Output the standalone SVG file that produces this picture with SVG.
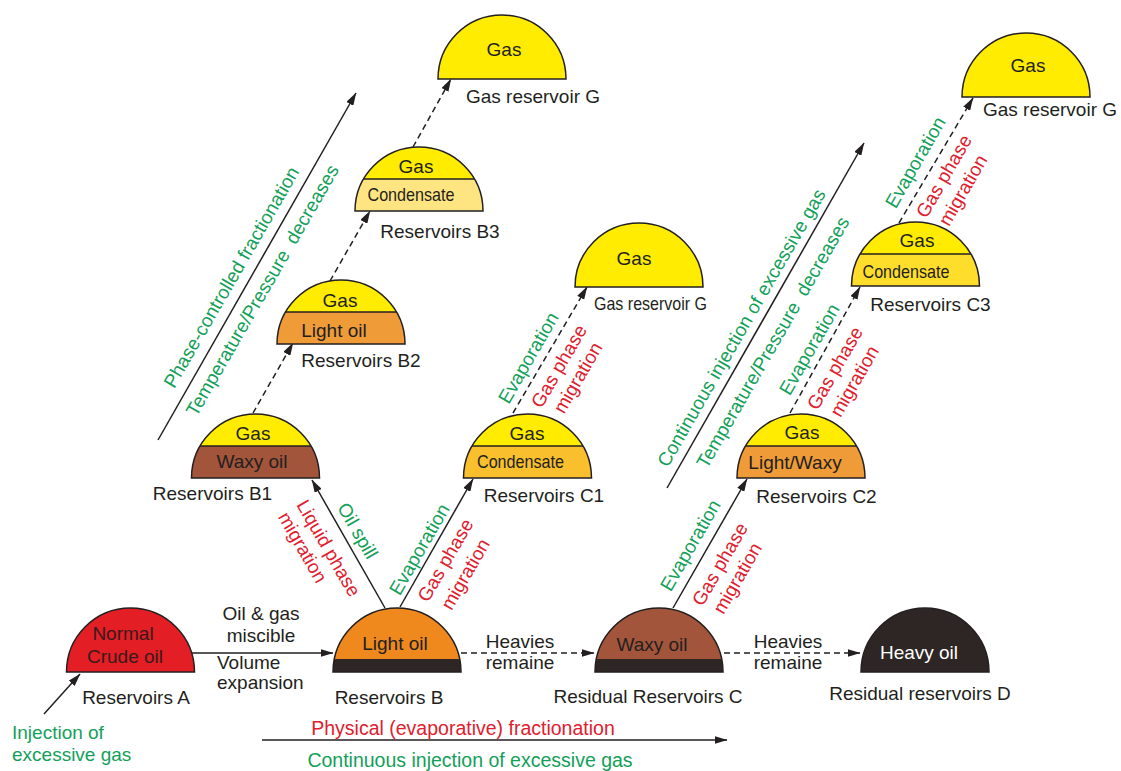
<svg xmlns="http://www.w3.org/2000/svg" xmlns:xlink="http://www.w3.org/1999/xlink" width="1121" height="771" viewBox="0 0 1121 771">
<style>
text{font-family:"Liberation Sans",Arial,Helvetica,sans-serif;font-size:19px;fill:#231f20}
.m{text-anchor:middle}
.g{fill:#13a05a}
.r{fill:#e0202e}
.w{fill:#ffffff}
.dk{fill:#3a1a1a}
.ln{stroke:#231f20;stroke-width:1.5;fill:none}
.ds{stroke-dasharray:6 4}
.ol{fill:none;stroke:#231f20;stroke-width:1.5}
.gas{fill:#ffec00}
.big{font-size:19.5px}
</style>
<defs>
<path id="dome" d="M-64,0 A64,64 0 0 1 64,0 Z"/>
<path id="cap" d="M-55.43,-32 A64,64 0 0 1 55.43,-32 Z"/>
<path id="top13" d="M-62.67,-13 A64,64 0 0 1 62.67,-13 Z"/>
<marker id="ah" viewBox="0 0 13 8" refX="12.5" refY="4" markerWidth="13" markerHeight="8" orient="auto" markerUnits="userSpaceOnUse">
<path d="M0,0 L13,4 L0,8 Z" fill="#231f20"/>
</marker>
</defs>
<rect width="1121" height="771" fill="#ffffff"/>

<g id="connectors">
<line class="ln" x1="192" y1="653" x2="333" y2="653" marker-end="url(#ah)"/>
<line class="ln ds" x1="461" y1="653" x2="594" y2="653" marker-end="url(#ah)"/>
<line class="ln ds" x1="724" y1="653" x2="860" y2="653" marker-end="url(#ah)"/>
<line class="ln" x1="44" y1="714" x2="80" y2="674" marker-end="url(#ah)"/>
<line class="ln" x1="262" y1="740" x2="727" y2="740" marker-end="url(#ah)"/>
<line class="ln" x1="385" y1="608" x2="312" y2="480" marker-end="url(#ah)"/>
<line class="ln" x1="400" y1="607" x2="473" y2="479" marker-end="url(#ah)"/>
<line class="ln" x1="673" y1="608" x2="747" y2="479" marker-end="url(#ah)"/>
<line class="ln ds" x1="253" y1="413" x2="293" y2="343" marker-end="url(#ah)"/>
<line class="ln ds" x1="330" y1="281" x2="370" y2="211" marker-end="url(#ah)"/>
<line class="ln ds" x1="413" y1="147" x2="451" y2="79" marker-end="url(#ah)"/>
<line class="ln ds" x1="513" y1="413" x2="587" y2="287" marker-end="url(#ah)"/>
<line class="ln ds" x1="790" y1="413" x2="860" y2="287" marker-end="url(#ah)"/>
<line class="ln ds" x1="899" y1="223" x2="973" y2="98" marker-end="url(#ah)"/>
<line class="ln" x1="158" y1="440" x2="356" y2="93" marker-end="url(#ah)"/>
<line class="ln" x1="667" y1="488" x2="864" y2="143" marker-end="url(#ah)"/>
</g>

<g id="connector-labels">
<text class="m" x="261" y="620">Oil &amp; gas</text>
<text class="m" x="261" y="642">miscible</text>
<text x="217" y="669" font-size="18">Volume</text>
<text x="217" y="689" font-size="18">expansion</text>
<text class="m" x="520" y="648">Heavies</text>
<text class="m" x="520" y="669">remaine</text>
<text class="m" x="788" y="648">Heavies</text>
<text class="m" x="788" y="669">remaine</text>
<text class="g" x="12" y="739">Injection of</text>
<text class="g" x="12" y="761">excessive gas</text>
<text class="r m big" x="463" y="735">Physical (evaporative) fractionation</text>
<text class="g m big" x="470" y="767">Continuous injection of excessive gas</text>

<text class="g m" transform="translate(237,280.5) rotate(-60)">Phase-controlled fractionation</text>
<text class="g m" transform="translate(268,293.5) rotate(-60)" xml:space="preserve">Temperature/Pressure  decreases</text>
<text class="g m" transform="translate(747,331) rotate(-60)">Continuous injection of excessive gas</text>
<text class="g m" transform="translate(778.5,345.5) rotate(-60)" xml:space="preserve">Temperature/Pressure  decreases</text>

<text class="g m" transform="translate(352,534) rotate(60)">Oil spill</text>
<text class="r m" transform="translate(323,551.5) rotate(60)">Liquid phase</text>
<text class="r m" transform="translate(297,550.5) rotate(60)">migration</text>

<text class="g m" transform="translate(425,552.5) rotate(-60)">Evaporation</text>
<text class="r m" transform="translate(451,563.5) rotate(-60)">Gas phase</text>
<text class="r m" transform="translate(471,577.5) rotate(-60)">migration</text>

<text class="g m" transform="translate(534,361) rotate(-60)">Evaporation</text>
<text class="r m" transform="translate(564.5,369.5) rotate(-60)">Gas phase</text>
<text class="r m" transform="translate(583.5,381) rotate(-60)">migration</text>

<text class="g m" transform="translate(696,548.5) rotate(-60)">Evaporation</text>
<text class="r m" transform="translate(725.5,567.5) rotate(-60)">Gas phase</text>
<text class="r m" transform="translate(743,581.5) rotate(-60)">migration</text>

<text class="g m" transform="translate(815,352.5) rotate(-60)">Evaporation</text>
<text class="r m" transform="translate(840.5,371.5) rotate(-60)">Gas phase</text>
<text class="r m" transform="translate(860,384.5) rotate(-60)">migration</text>

<text class="g m" transform="translate(921,165.5) rotate(-60)">Evaporation</text>
<text class="r m" transform="translate(949.5,179.5) rotate(-60)">Gas phase</text>
<text class="r m" transform="translate(968.5,193.5) rotate(-60)">migration</text>
</g>

<g id="reservoir-A">
<use xlink:href="#dome" href="#dome" x="130.5" y="672" fill="#e31e25"/>
<use xlink:href="#dome" href="#dome" x="130.5" y="672" class="ol"/>
<text class="m dk" x="123" y="640">Normal</text>
<text class="m dk" x="125" y="663">Crude oil</text>
<text class="m" x="136" y="704">Reservoirs A</text>
</g>

<g id="reservoir-B">
<use xlink:href="#dome" href="#dome" x="397" y="672" fill="#2e2624"/>
<use xlink:href="#top13" href="#top13" x="397" y="672" fill="#f0891d"/>
<use xlink:href="#dome" href="#dome" x="397" y="672" class="ol"/>
<text class="m" x="395" y="650">Light oil</text>
<text class="m" x="389" y="704">Reservoirs B</text>
</g>

<g id="reservoir-C">
<use xlink:href="#dome" href="#dome" x="659" y="672" fill="#2e2624"/>
<use xlink:href="#top13" href="#top13" x="659" y="672" fill="#a2553a"/>
<use xlink:href="#dome" href="#dome" x="659" y="672" class="ol"/>
<text class="m" x="652" y="651">Waxy oil</text>
<text class="m" x="648" y="703">Residual Reservoirs C</text>
</g>

<g id="reservoir-D">
<use xlink:href="#dome" href="#dome" x="925" y="672" fill="#2e2624"/>
<use xlink:href="#dome" href="#dome" x="925" y="672" class="ol"/>
<text class="m w" x="919" y="659">Heavy oil</text>
<text class="m" x="920" y="700">Residual reservoirs D</text>
</g>

<g id="reservoir-B1">
<use xlink:href="#dome" href="#dome" x="255.5" y="478" fill="#a2553a"/>
<use xlink:href="#cap" href="#cap" x="255.5" y="478" class="gas"/>
<line class="ln" x1="200" y1="446" x2="311" y2="446"/>
<use xlink:href="#dome" href="#dome" x="255.5" y="478" class="ol"/>
<text class="m" x="253" y="440">Gas</text>
<text class="m" x="252" y="468">Waxy oil</text>
<text class="m" x="212.5" y="500">Reservoirs B1</text>
</g>

<g id="reservoir-B2">
<use xlink:href="#dome" href="#dome" x="341" y="344" fill="#ef9b38"/>
<use xlink:href="#cap" href="#cap" x="341" y="344" class="gas"/>
<line class="ln" x1="285.6" y1="312" x2="396.4" y2="312"/>
<use xlink:href="#dome" href="#dome" x="341" y="344" class="ol"/>
<text class="m" x="340" y="307">Gas</text>
<text class="m" x="334" y="337">Light oil</text>
<text class="m" x="361" y="367">Reservoirs B2</text>
</g>

<g id="reservoir-B3">
<use xlink:href="#dome" href="#dome" x="419" y="211" fill="#fee581"/>
<use xlink:href="#cap" href="#cap" x="419" y="211" class="gas"/>
<line class="ln" x1="363.6" y1="179" x2="474.4" y2="179"/>
<use xlink:href="#dome" href="#dome" x="419" y="211" class="ol"/>
<text class="m" x="416" y="173">Gas</text>
<text class="m" x="411" y="201" font-size="18" textLength="87" lengthAdjust="spacingAndGlyphs">Condensate</text>
<text class="m" x="440" y="238">Reservoirs B3</text>
</g>

<g id="gas-reservoir-G1">
<use xlink:href="#dome" href="#dome" x="502" y="79" class="gas"/>
<use xlink:href="#dome" href="#dome" x="502" y="79" class="ol"/>
<text class="m" x="504" y="56">Gas</text>
<text class="m" x="533" y="103">Gas reservoir G</text>
</g>

<g id="reservoir-C1">
<use xlink:href="#dome" href="#dome" x="527.5" y="478" fill="#f9bf2d"/>
<use xlink:href="#cap" href="#cap" x="527.5" y="478" class="gas"/>
<line class="ln" x1="472.1" y1="446" x2="582.9" y2="446"/>
<use xlink:href="#dome" href="#dome" x="527.5" y="478" class="ol"/>
<text class="m" x="527" y="440">Gas</text>
<text class="m" x="520.5" y="468" font-size="18" textLength="87" lengthAdjust="spacingAndGlyphs">Condensate</text>
<text class="m" x="544" y="502">Reservoirs C1</text>
</g>

<g id="gas-reservoir-G2">
<use xlink:href="#dome" href="#dome" x="639" y="287" class="gas"/>
<use xlink:href="#dome" href="#dome" x="639" y="287" class="ol"/>
<text class="m" x="634" y="265">Gas</text>
<text class="m" x="650.5" y="310" font-size="18" textLength="113" lengthAdjust="spacingAndGlyphs">Gas reservoir G</text>
</g>

<g id="reservoir-C2">
<use xlink:href="#dome" href="#dome" x="801" y="478" fill="#ef9b38"/>
<use xlink:href="#cap" href="#cap" x="801" y="478" class="gas"/>
<line class="ln" x1="745.6" y1="446" x2="856.4" y2="446"/>
<use xlink:href="#dome" href="#dome" x="801" y="478" class="ol"/>
<text class="m" x="802" y="439">Gas</text>
<text class="m" x="795" y="469">Light/Waxy</text>
<text class="m" x="816.5" y="503">Reservoirs C2</text>
</g>

<g id="reservoir-C3">
<use xlink:href="#dome" href="#dome" x="915.5" y="286" fill="#ffde2b"/>
<use xlink:href="#cap" href="#cap" x="915.5" y="286" class="gas"/>
<line class="ln" x1="860.1" y1="254" x2="970.9" y2="254"/>
<use xlink:href="#dome" href="#dome" x="915.5" y="286" class="ol"/>
<text class="m" x="917" y="247">Gas</text>
<text class="m" x="906" y="278" font-size="18" textLength="87" lengthAdjust="spacingAndGlyphs">Condensate</text>
<text class="m" x="930.5" y="311">Reservoirs C3</text>
</g>

<g id="gas-reservoir-G3">
<use xlink:href="#dome" href="#dome" x="1026" y="97" class="gas"/>
<use xlink:href="#dome" href="#dome" x="1026" y="97" class="ol"/>
<text class="m" x="1028" y="72">Gas</text>
<text class="m" x="1050" y="116">Gas reservoir G</text>
</g>
</svg>
